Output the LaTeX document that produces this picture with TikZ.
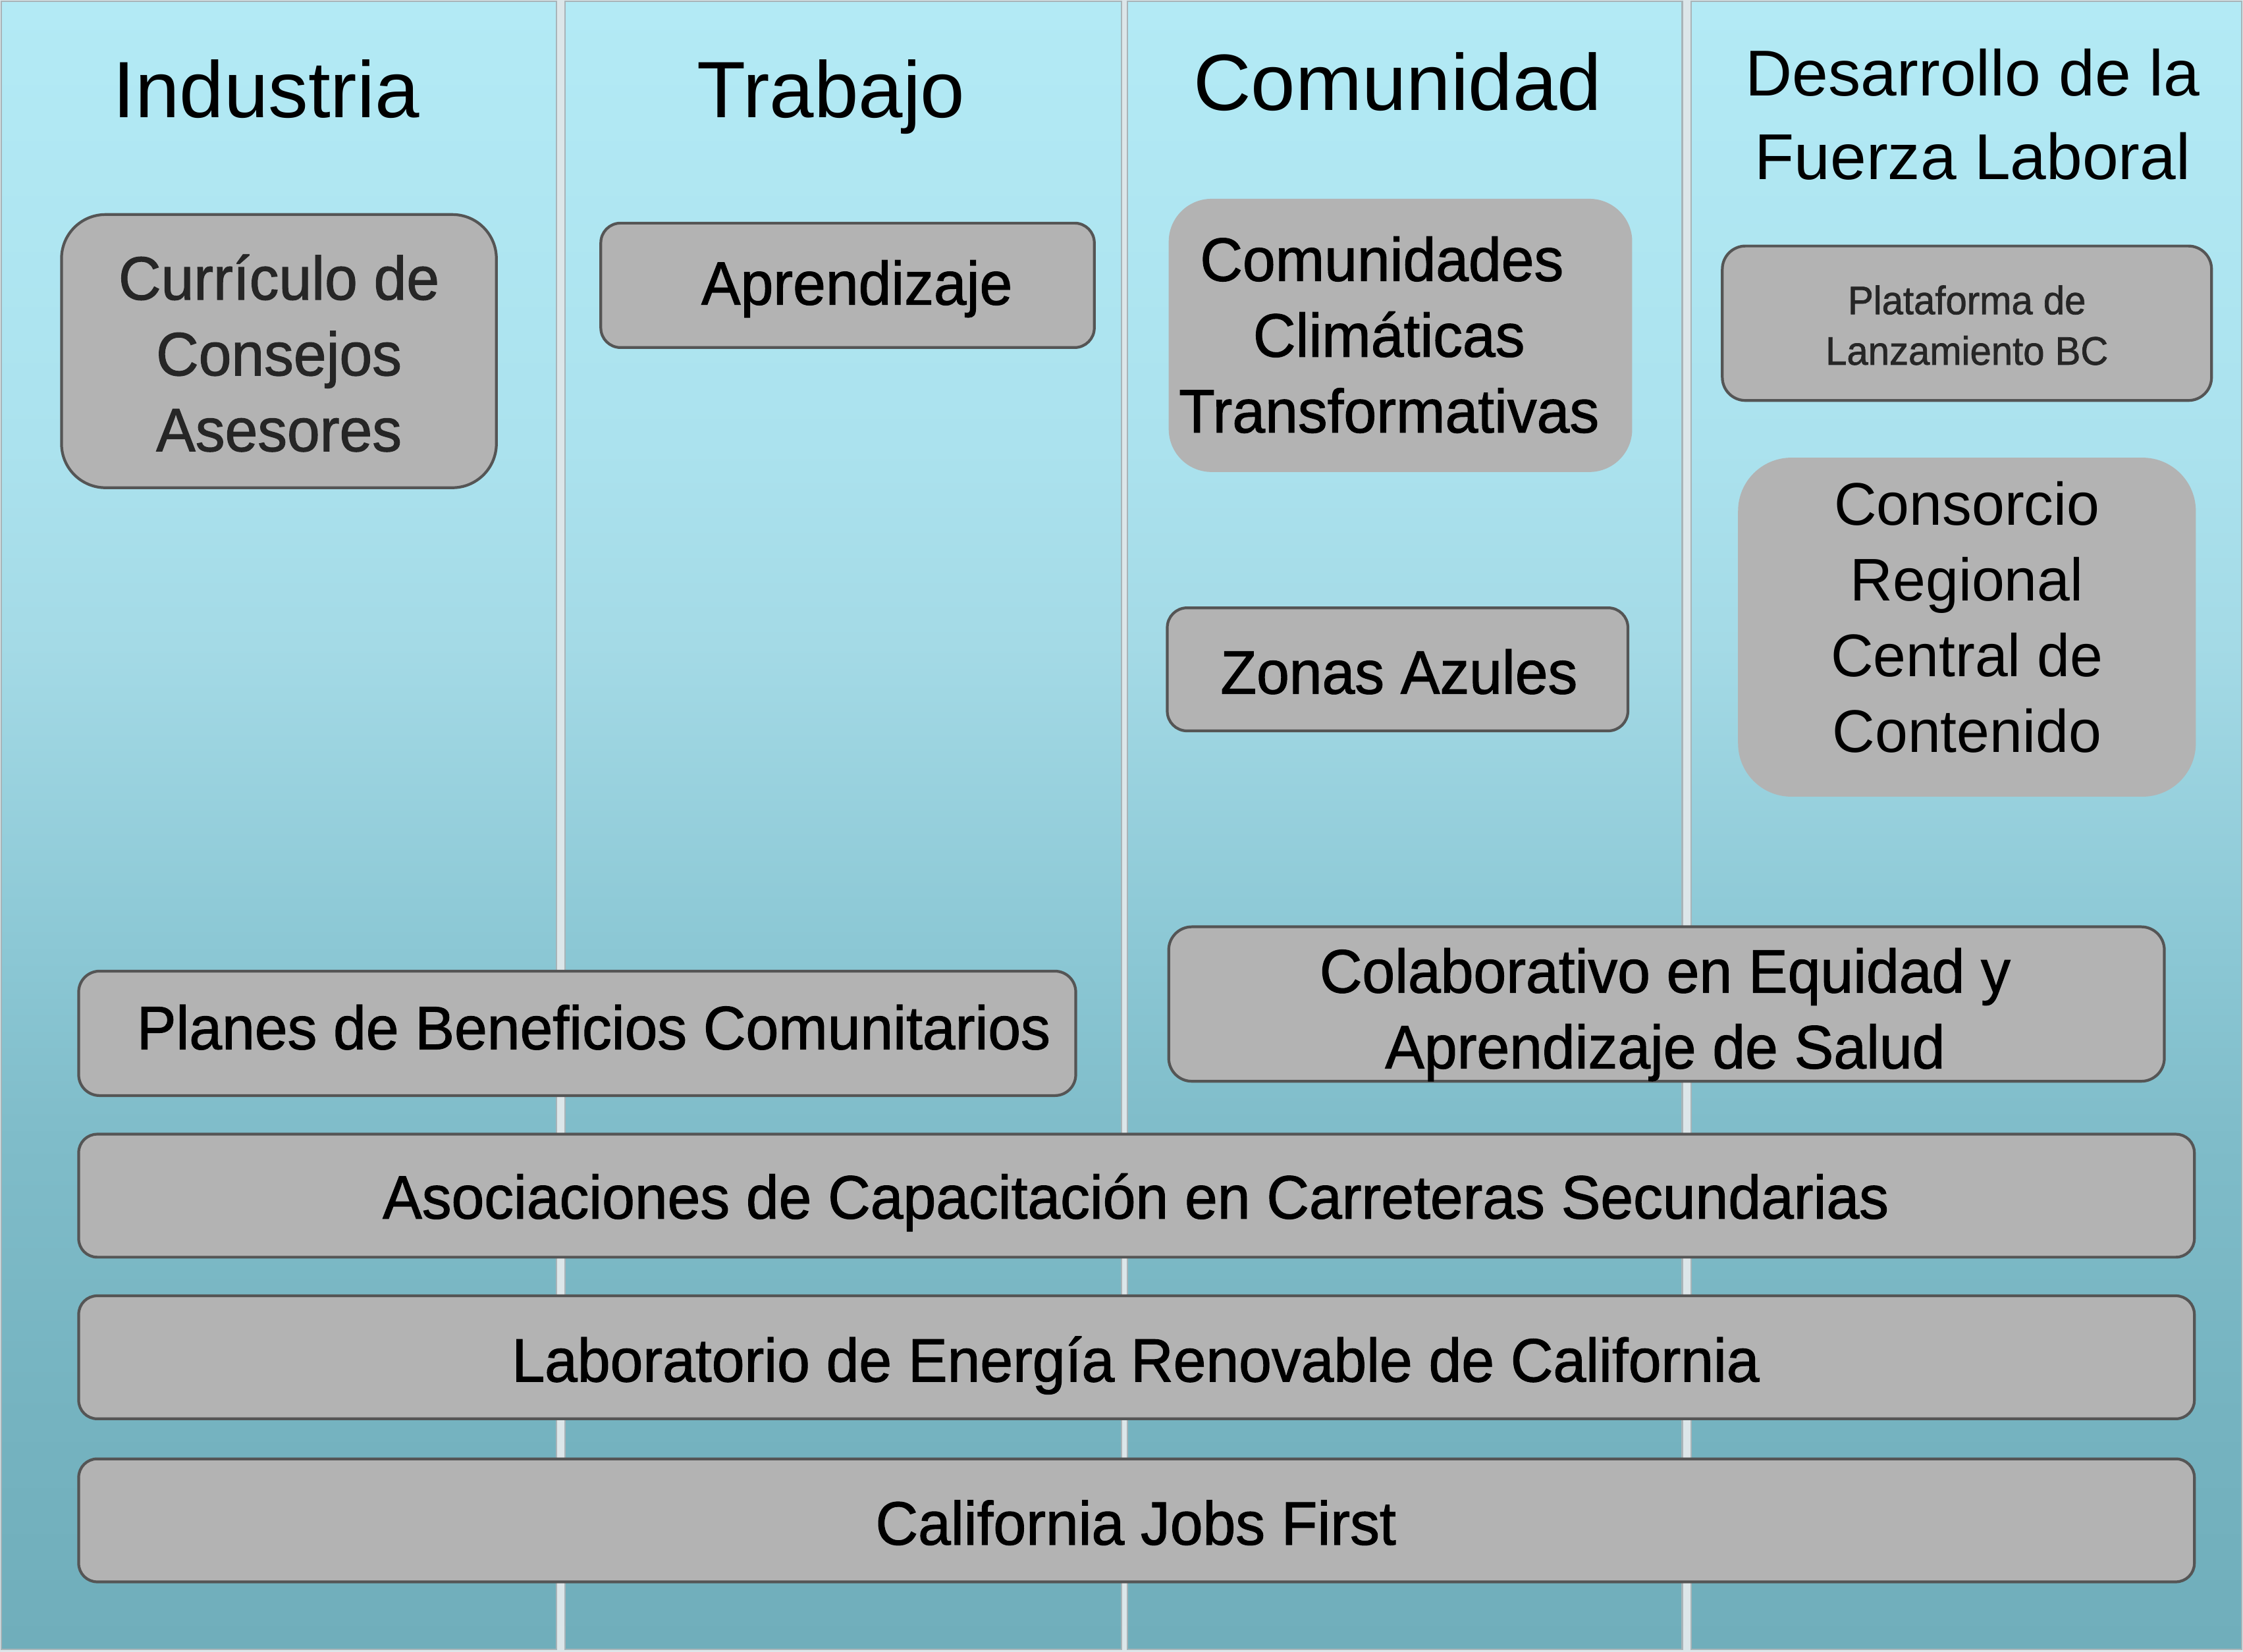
\documentclass[tikz,border=0pt]{standalone}
\usepackage{fontspec}
\setmainfont{Liberation Sans}
\newfontfamily\boxfont{Liberation Sans}[FakeStretch=0.96,FakeBold=1.2]
\newfontfamily\boxlight{Liberation Sans}[FakeStretch=0.98]
\usetikzlibrary{fit}
\definecolor{g0}{HTML}{70AEBB}
\definecolor{g14}{HTML}{75B3C0}
\definecolor{g31}{HTML}{7FBCC9}
\definecolor{g43}{HTML}{8CC8D5}
\definecolor{g61}{HTML}{A4DAE6}
\definecolor{g73}{HTML}{ABE2EE}
\definecolor{g100}{HTML}{B3EAF5}
\definecolor{gapcol}{HTML}{DCE6E9}
\definecolor{colline}{HTML}{A8B4B8}
\definecolor{boxfill}{HTML}{B3B3B3}
\definecolor{boxline}{HTML}{555555}
\definecolor{darktxt}{HTML}{262626}
\pgfdeclareverticalshading{colgrad}{100bp}{color(0bp)=(g0); color(25bp)=(g0); color(32bp)=(g14); color(40.5bp)=(g31); color(46.5bp)=(g43); color(55.5bp)=(g61); color(61.5bp)=(g73); color(75bp)=(g100); color(100bp)=(g100)}
\tikzset{
  column/.style={shading=colgrad, draw=colline, line width=0.6pt},
  box/.style={rectangle, fill=boxfill, draw=boxline, line width=1.2pt, inner sep=0pt, outer sep=0pt},
  boxnb/.style={rectangle, fill=boxfill, inner sep=0pt, outer sep=0pt},
  hd/.style={anchor=base, inner sep=0pt, font=\fontsize{34.5}{40}\selectfont},
  hdsmall/.style={anchor=base, inner sep=0pt, font=\fontsize{28}{34}\selectfont},
  bt/.style={anchor=base, inner sep=0pt, font=\boxfont\fontsize{26.5}{32}\selectfont},
  btsmall/.style={anchor=base, inner sep=0pt, text=darktxt, font=\boxfont\fontsize{17.2}{21}\selectfont},
  btlight/.style={anchor=base, inner sep=0pt, font=\boxlight\fontsize{26}{32}\selectfont}
}
\begin{document}
\begin{tikzpicture}[x=0.02172cm, y=-0.02172cm]
\useasboundingbox (0,0) rectangle (1568,1155);
\fill[gapcol] (0,0) rectangle (1568,1155);
% columns
\shade[column] (1,1) rectangle (389,1153);
\shade[column] (395,1) rectangle (784,1153);
\shade[column] (788,1) rectangle (1176,1153);
\shade[column] (1182,1) rectangle (1567,1153);
% headings
\node[hd] (tInd) at (186,82) {Industria};
\node[hd] (tTra) at (581,82) {Trabajo};
\node[hd] (tCom) at (977,77) {Comunidad};
\node[hdsmall] (tDes1) at (1379,67) {Desarrollo de la};
\node[hdsmall] (tDes2) at (1379,125.6) {Fuerza Laboral};
% Curriculo
\node[box, rounded corners=19pt, fit={(43,150)(347,341)}] (bCur) {};
\node[bt, text=darktxt] (cur1) at (195,209.5) {Currículo de};
\node[bt, text=darktxt] (cur2) at (195,262.5) {Consejos};
\node[bt, text=darktxt] (cur3) at (195,315.5) {Asesores};
% Aprendizaje
\node[box, rounded corners=8.5pt, fit={(420,156)(765,243)}] (bApr) {};
\node[bt] (apr1) at (599,213) {Aprendizaje};
% Comunidades
\node[boxnb, rounded corners=18.5pt, fit={(817,139)(1141,330)}] (bCom) {};
\node[bt] (com1) at (966,196.4) {Comunidades};
\node[bt] (com2) at (971,249.4) {Climáticas};
\node[bt] (com3) at (971,302.4) {Transformativas};
% Zonas Azules
\node[box, rounded corners=8.5pt, fit={(816,425)(1138,511)}] (bZon) {};
\node[bt] (zon1) at (978,485) {Zonas Azules};
% Plataforma
\node[box, rounded corners=10pt, fit={(1204,172)(1546,280)}] (bPla) {};
\node[btsmall] (pla1) at (1375,219.7) {Plataforma de};
\node[btsmall] (pla2) at (1375,255) {Lanzamiento BC};
% Consorcio
\node[boxnb, rounded corners=23pt, fit={(1215,320)(1535,557)}] (bCon) {};
\node[btlight] (con1) at (1375,367) {Consorcio};
\node[btlight] (con2) at (1375,420) {Regional};
\node[btlight] (con3) at (1375,473) {Central de};
\node[btlight] (con4) at (1375,526) {Contenido};
% Planes
\node[box, rounded corners=9pt, fit={(55,679)(752,766)}] (bPln) {};
\node[bt] (pln1) at (415,733.6) {Planes de Beneficios Comunitarios};
% Colaborativo
\node[box, rounded corners=10pt, fit={(817,648)(1513,756)}] (bCol) {};
\node[bt] (col1) at (1164,694) {Colaborativo en Equidad y};
\node[bt] (col2) at (1164,747) {Aprendizaje de Salud};
% long bars
\node[box, rounded corners=8pt, fit={(55,793)(1534,879)}] (bAso) {};
\node[bt] (aso1) at (794,852) {Asociaciones de Capacitación en Carreteras Secundarias};
\node[box, rounded corners=8pt, fit={(55,906)(1534,992)}] (bLab) {};
\node[bt] (lab1) at (794,966) {Laboratorio de Energía Renovable de California};
\node[box, rounded corners=8pt, fit={(55,1020)(1534,1106)}] (bCal) {};
\node[bt] (cal1) at (794,1080) {California Jobs First};
\end{tikzpicture}
\end{document}
